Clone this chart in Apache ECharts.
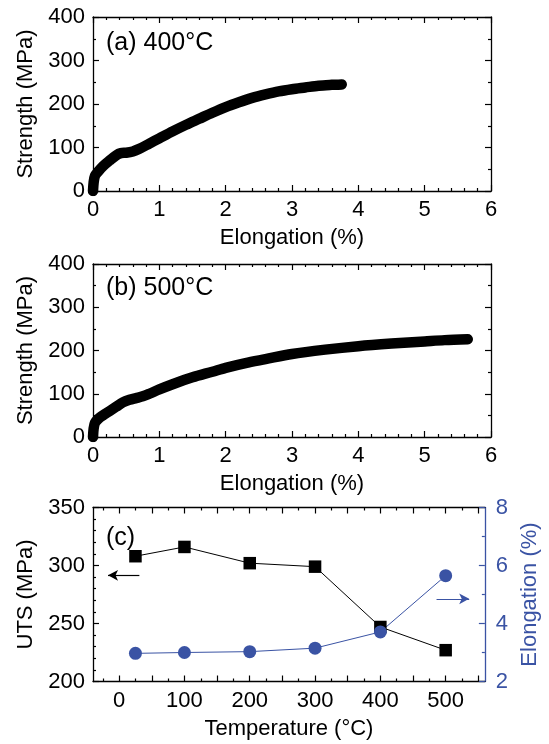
<!DOCTYPE html>
<html>
<head>
<meta charset="utf-8">
<script src="https://cdn.jsdelivr.net/npm/echarts@6/dist/echarts.min.js"></script>
<style>
html,body{margin:0;padding:0;background:#fff;}
#chart{width:549px;height:744px;}
</style>
</head>
<body>
<div id="chart"></div>
<script>
// ---------- Data ----------
// (a) 400 °C stress-strain curve
const elongA = [0, 0.01, 0.03, 0.08, 0.15, 0.25, 0.35, 0.42, 0.5, 0.6, 0.7, 0.85, 1.0, 1.2, 1.4, 1.6, 1.8, 2.0, 2.2, 2.4, 2.6, 2.8, 3.0, 3.2, 3.4, 3.6, 3.75];
const strengthA = [0, 20, 35, 45, 57, 70, 82, 87, 88, 91, 97, 109, 121, 137, 152, 166, 180, 193, 204, 214, 222, 229, 234, 238, 242, 244, 245];
// (b) 500 °C stress-strain curve
const elongB = [0, 0.01, 0.03, 0.08, 0.15, 0.25, 0.35, 0.45, 0.55, 0.65, 0.75, 0.85, 1.0, 1.2, 1.5, 1.8, 2.0, 2.3, 2.6, 3.0, 3.5, 4.0, 4.5, 5.0, 5.3, 5.65];
const strengthB = [0, 20, 33, 42, 50, 60, 70, 80, 86, 90, 94, 100, 110, 122, 138, 151, 160, 171, 180, 192, 202, 210, 216, 221, 224, 226];
// (c) UTS and elongation vs temperature
const temps = [25, 100, 200, 300, 400, 500];
const uts = [308, 316, 302, 299, 247, 227];
const elongation = [2.97, 3.0, 3.03, 3.15, 3.71, 5.65];
// tick labels
const tempTickLabels = [0, 100, 200, 300, 400, 500];

const FONT = 'Liberation Sans, Arial, sans-serif';
const BLUE = '#3a53a4';
const pairs = (xs, ys) => xs.map((x, i) => [x, ys[i]]);

const chart = echarts.init(document.getElementById('chart'), null, {renderer: 'canvas'});

const grids = [
  {left: 93, right: 58, top: 17, height: 174},
  {left: 93, right: 58, top: 264, height: 173},
  {left: 93, right: 58, top: 507.5, height: 174}
];

const FS = 22;
const txt = (c) => ({color: c || '#000', fontSize: FS, fontFamily: FONT});
const line = (c) => ({show: true, onZero: false, lineStyle: {color: c || '#000', width: 1.3}});
const tick = (c, len) => ({show: true, inside: true, length: len || 6, lineStyle: {color: c || '#000', width: 1.2}});

function strainX(gi, pos) {
  return {
    gridIndex: gi, type: 'value', position: pos, min: 0, max: 6, interval: 1,
    axisLine: line(), axisTick: tick(),
    minorTick: {show: true, splitNumber: 5, length: 3, lineStyle: {color: '#000', width: 1.2}},
    axisLabel: Object.assign({show: pos === 'bottom', margin: 8}, txt()),
    splitLine: {show: false}, minorSplitLine: {show: false},
    name: pos === 'bottom' ? 'Elongation (%)' : '', nameLocation: 'middle', nameGap: 36,
    nameTextStyle: txt()
  };
}
function strengthY(gi, pos) {
  return {
    gridIndex: gi, type: 'value', position: pos, min: 0, max: 400, interval: 100,
    axisLine: line(), axisTick: tick(),
    minorTick: {show: true, splitNumber: 2, length: 3, lineStyle: {color: '#000', width: 1.2}},
    axisLabel: Object.assign({show: pos === 'left', margin: 8}, txt()),
    splitLine: {show: false},
    name: pos === 'left' ? 'Strength (MPa)' : '', nameLocation: 'middle', nameGap: 53, nameRotate: 90,
    nameTextStyle: txt()
  };
}
function tempX(pos, major) {
  const majorTicks = [], minorTicks = [];
  for (let v = -25; v <= 560; v += 25) { if (v % 50 === 0) majorTicks.push(v); else minorTicks.push(v); }
  const showLab = major && pos === 'bottom';
  return {
    gridIndex: 2, type: 'value', position: pos, min: -40, max: 560,
    axisLine: major ? line() : {show: false},
    axisTick: Object.assign(tick('#000', major ? 6 : 3), {customValues: major ? majorTicks : minorTicks}),
    axisLabel: Object.assign({show: showLab, margin: 8, customValues: tempTickLabels}, txt()),
    splitLine: {show: false},
    name: showLab ? 'Temperature (°C)' : '', nameLocation: 'middle', nameGap: 36,
    nameTextStyle: txt()
  };
}

const option = {
  backgroundColor: '#fff',
  animation: false,
  grid: grids,
  xAxis: [
    strainX(0, 'bottom'), strainX(0, 'top'),
    strainX(1, 'bottom'), strainX(1, 'top'),
    tempX('bottom', true), tempX('bottom', false), tempX('top', true), tempX('top', false)
  ],
  yAxis: [
    strengthY(0, 'left'), strengthY(0, 'right'),
    strengthY(1, 'left'), strengthY(1, 'right'),
    {
      gridIndex: 2, type: 'value', position: 'left', min: 200, max: 350, interval: 50,
      axisLine: line(), axisTick: tick(),
      minorTick: {show: true, splitNumber: 5, length: 3, lineStyle: {color: '#000', width: 1.2}},
      axisLabel: Object.assign({margin: 8}, txt()), splitLine: {show: false},
      name: 'UTS (MPa)', nameLocation: 'middle', nameGap: 53, nameRotate: 90, nameTextStyle: txt()
    },
    {
      gridIndex: 2, type: 'value', position: 'right', min: 2, max: 8, interval: 2,
      axisLine: line(BLUE), axisTick: tick(BLUE),
      minorTick: {show: true, splitNumber: 2, length: 3, lineStyle: {color: BLUE, width: 1.2}},
      axisLabel: Object.assign({margin: 11}, txt(BLUE)), splitLine: {show: false},
      name: 'Elongation (%)', nameLocation: 'middle', nameGap: 33, nameRotate: 90, nameTextStyle: txt(BLUE)
    }
  ],
  graphic: [
    {type: 'text', left: 106, top: 31, style: {text: '(a) 400°C', fontSize: 25, fontFamily: FONT, fill: '#000'}},
    {type: 'text', left: 106, top: 276, style: {text: '(b) 500°C', fontSize: 25, fontFamily: FONT, fill: '#000'}},
    {type: 'text', left: 106, top: 526, style: {text: '(c)', fontSize: 25, fontFamily: FONT, fill: '#000'}}
  ],
  series: [
    {
      type: 'line', xAxisIndex: 0, yAxisIndex: 0, data: pairs(elongA, strengthA),
      showSymbol: false, smooth: 0.3,
      lineStyle: {color: '#000', width: 10.5, cap: 'round', join: 'round'}
    },
    {
      type: 'line', xAxisIndex: 2, yAxisIndex: 2, data: pairs(elongB, strengthB),
      showSymbol: false, smooth: 0.3,
      lineStyle: {color: '#000', width: 10.5, cap: 'round', join: 'round'}
    },
    {
      type: 'line', xAxisIndex: 4, yAxisIndex: 4, data: pairs(temps, uts),
      symbol: 'rect', symbolSize: 12.5,
      itemStyle: {color: '#000'}, lineStyle: {color: '#000', width: 1},
      markLine: {
        silent: true, symbol: ['none', 'arrow'], symbolSize: [8, 10],
        lineStyle: {color: '#000', width: 1.2, type: 'solid'}, label: {show: false},
        data: [[{coord: [31, 291.5]}, {coord: [-17, 291.5]}]]
      }
    },
    {
      type: 'line', xAxisIndex: 4, yAxisIndex: 5, data: pairs(temps, elongation),
      symbol: 'circle', symbolSize: 13,
      itemStyle: {color: BLUE}, lineStyle: {color: BLUE, width: 1},
      markLine: {
        silent: true, symbol: ['none', 'arrow'], symbolSize: [8, 10],
        lineStyle: {color: BLUE, width: 1.2, type: 'solid'}, label: {show: false},
        data: [[{coord: [486, 4.85]}, {coord: [536, 4.85]}]]
      }
    }
  ]
};
chart.setOption(option);
</script>
</body>
</html>
